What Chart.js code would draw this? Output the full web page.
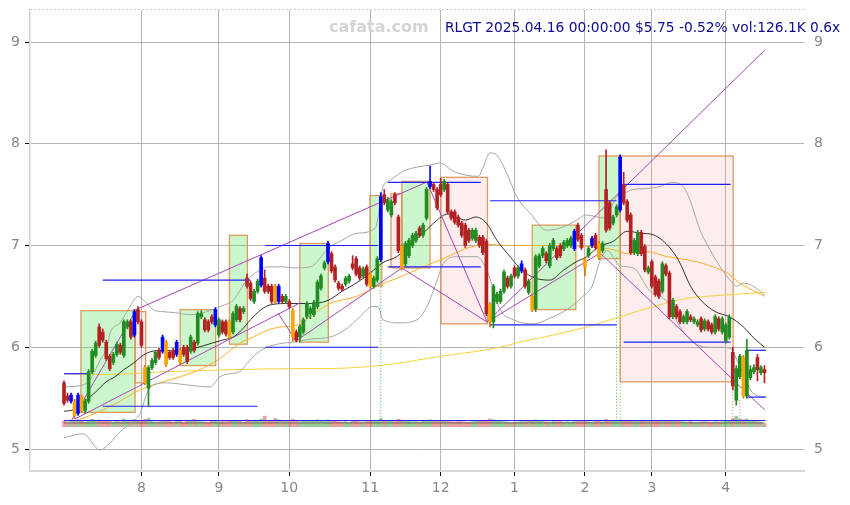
<!DOCTYPE html>
<html><head><meta charset="utf-8">
<script src="https://cdn.jsdelivr.net/npm/chart.js@4.4.1/dist/chart.umd.min.js"></script>
<style>html,body{margin:0;padding:0;background:#fff;}#wrap{width:850px;height:505px;}</style>
</head><body><div id="wrap"><canvas id="c" width="850" height="505"></canvas></div>
<script>
// ---------- DATA (trading-day index 0 = 2024-07-01 ... 199 = 2025-04-16) ----------
const titleText = 'RLGT 2025.04.16 00:00:00 $5.75 -0.52% vol:126.1K 0.6x';
const watermark = 'cafata.com';
const monthTickIdx = [22,44,64,87,107,128,148,167,188];
const monthLabels = ['8','9','10','11','12','1','2','3','4'];
const priceTicks = [5,6,7,8,9];

const opens = [
5.65,5.52,5.47,5.47,5.35,5.52,5.38,5.47,5.76,5.92,
6.20,6.15,6.05,5.91,5.85,5.93,6.02,5.92,6.20,6.25,
6.12,6.37,6.25,5.80,5.60,5.80,5.85,5.97,5.96,6.05,
5.95,5.97,5.93,5.97,6.00,6.00,5.96,6.05,6.04,6.30,
6.27,6.25,6.30,6.22,6.12,6.25,6.25,6.25,6.15,6.27,
6.38,6.35,6.68,6.63,6.45,6.55,6.61,6.68,6.60,6.60,
6.60,6.45,6.50,6.45,6.45,6.36,6.15,6.10,6.15,6.30,
6.33,6.32,6.40,6.58,6.78,6.84,6.92,6.79,6.63,6.60,
6.62,6.65,6.82,6.87,6.78,6.70,6.79,6.72,6.60,6.66,
6.86,7.50,7.35,7.30,7.50,7.28,6.99,6.82,6.90,7.00,
7.05,7.17,7.10,7.27,7.58,7.60,7.55,7.60,7.55,7.60,
7.33,7.33,7.28,7.22,7.20,7.15,7.07,7.05,7.08,7.08,
7.04,6.42,6.25,6.45,6.45,6.55,6.68,6.60,6.78,6.70,
6.75,6.76,6.54,6.50,6.38,6.80,6.90,6.92,6.80,6.97,
6.97,7.00,6.97,7.00,7.00,6.97,7.20,7.10,6.86,6.90,
7.00,7.10,7.02,6.95,7.55,7.42,7.22,7.30,7.35,7.60,
7.43,7.30,6.93,6.92,7.13,6.99,6.74,6.84,6.69,6.65,
6.55,6.80,6.73,6.30,6.40,6.35,6.25,6.25,6.30,6.25,
6.22,6.28,6.18,6.25,6.22,6.15,6.28,6.15,6.06,6.10,
5.95,5.48,5.71,5.90,5.52,5.70,5.76,5.90,5.75,5.78];
const highs = [
5.67,5.55,5.55,5.49,5.55,5.53,5.49,5.78,5.98,6.06,
6.23,6.18,6.07,5.93,5.95,6.05,6.04,6.27,6.27,6.27,
6.37,6.40,6.27,5.82,5.82,5.89,5.97,5.99,6.12,6.07,
5.97,5.99,6.07,5.99,6.02,6.02,6.12,6.07,6.35,6.36,
6.29,6.27,6.32,6.39,6.29,6.27,6.27,6.27,6.35,6.42,
6.40,6.40,6.72,6.65,6.57,6.67,6.90,6.76,6.62,6.62,
6.62,6.62,6.52,6.52,6.47,6.38,6.17,6.22,6.29,6.45,
6.40,6.46,6.66,6.72,6.85,7.04,6.94,6.81,6.65,6.62,
6.70,6.72,6.90,6.89,6.80,6.79,6.81,6.74,6.70,6.89,
7.52,7.55,7.47,7.45,7.52,7.30,7.01,7.04,7.07,7.12,
7.14,7.19,7.22,7.57,7.78,7.62,7.57,7.66,7.65,7.62,
7.35,7.35,7.30,7.24,7.22,7.17,7.17,7.17,7.10,7.10,
7.06,6.44,6.62,6.54,6.57,6.76,6.70,6.72,6.80,6.80,
6.85,6.78,6.67,6.52,6.91,6.92,6.99,6.94,7.02,7.07,
6.99,7.02,7.05,7.07,7.09,7.16,7.22,7.12,6.88,6.99,
7.09,7.12,7.04,7.04,7.94,7.44,7.30,7.40,7.89,7.72,
7.45,7.32,7.07,7.15,7.15,7.01,6.80,6.86,6.71,6.67,
6.84,6.82,6.75,6.48,6.42,6.37,6.32,6.37,6.32,6.30,
6.27,6.30,6.28,6.27,6.24,6.32,6.30,6.30,6.24,6.32,
6.00,5.82,5.93,5.92,6.08,5.82,5.83,5.93,5.82,5.82];
const lows = [
5.43,5.46,5.45,5.30,5.33,5.36,5.35,5.45,5.74,5.90,
6.00,6.05,5.87,5.77,5.83,5.91,5.93,5.90,6.18,6.08,
6.10,6.23,6.00,5.63,5.42,5.78,5.83,5.88,5.94,5.81,
5.88,5.88,5.91,5.83,5.91,5.84,5.94,5.95,6.02,6.28,
6.15,6.15,6.23,6.20,6.10,6.13,6.11,6.08,6.13,6.25,
6.25,6.33,6.58,6.46,6.43,6.53,6.59,6.53,6.53,6.43,
6.43,6.43,6.43,6.43,6.38,6.06,6.05,6.05,6.13,6.28,
6.28,6.30,6.38,6.56,6.76,6.82,6.73,6.64,6.56,6.55,
6.60,6.63,6.76,6.70,6.66,6.68,6.60,6.58,6.58,6.64,
6.84,7.40,7.33,7.28,7.40,6.93,6.76,6.80,6.88,6.98,
7.03,7.08,7.08,7.25,7.56,7.53,7.35,7.48,7.53,7.31,
7.25,7.21,7.18,7.08,6.98,7.03,7.05,7.03,6.98,6.91,
6.31,6.20,6.19,6.43,6.43,6.53,6.58,6.58,6.68,6.68,
6.73,6.58,6.52,6.35,6.35,6.78,6.88,6.83,6.78,6.95,
6.86,6.88,6.95,6.98,6.98,6.95,7.04,6.96,6.70,6.88,
6.98,6.96,6.86,6.93,7.13,7.15,7.20,7.28,7.33,7.40,
7.23,6.91,6.91,6.90,6.90,6.74,6.72,6.58,6.50,6.48,
6.53,6.70,6.28,6.28,6.28,6.23,6.23,6.23,6.25,6.23,
6.20,6.15,6.16,6.16,6.13,6.13,6.16,6.13,6.04,6.08,
5.58,5.43,5.69,5.50,5.50,5.68,5.74,5.67,5.73,5.65];
const closes = [
5.45,5.48,5.53,5.33,5.53,5.38,5.47,5.76,5.96,6.04,
6.02,6.07,5.89,5.79,5.93,6.03,5.95,6.25,6.25,6.10,
6.35,6.25,6.02,5.65,5.80,5.87,5.95,5.90,6.10,5.83,
5.90,5.90,6.05,5.85,5.93,5.86,6.10,5.97,6.33,6.33,
6.17,6.17,6.25,6.37,6.27,6.15,6.13,6.10,6.33,6.40,
6.27,6.38,6.60,6.48,6.55,6.65,6.88,6.55,6.55,6.45,
6.45,6.60,6.45,6.50,6.40,6.10,6.07,6.20,6.27,6.43,
6.38,6.44,6.64,6.70,6.83,7.02,6.75,6.66,6.58,6.57,
6.68,6.70,6.78,6.72,6.68,6.77,6.62,6.60,6.68,6.87,
7.48,7.42,7.45,7.43,7.42,6.95,6.78,7.02,7.05,7.10,
7.12,7.10,7.20,7.55,7.63,7.55,7.37,7.50,7.63,7.33,
7.27,7.23,7.20,7.10,7.00,7.05,7.15,7.15,7.00,6.93,
6.33,6.25,6.60,6.52,6.55,6.74,6.60,6.70,6.70,6.78,
6.82,6.60,6.65,6.37,6.89,6.90,6.97,6.85,7.00,7.05,
6.88,6.90,7.03,7.05,7.07,7.14,7.06,6.98,6.79,6.97,
7.07,6.98,6.88,7.02,7.15,7.17,7.28,7.38,7.87,7.42,
7.25,6.93,7.05,7.13,6.92,6.76,6.78,6.60,6.52,6.50,
6.82,6.72,6.30,6.46,6.30,6.25,6.30,6.35,6.27,6.28,
6.25,6.17,6.26,6.18,6.15,6.30,6.18,6.28,6.22,6.30,
5.62,5.79,5.91,5.52,5.97,5.78,5.80,5.78,5.80,5.75];
const volumesK = [
230,190,260,210,280,240,200,260,300,250,270,220,240,210,190,230,200,310,220,260,280,250,
230,290,330,210,190,200,240,260,210,190,230,220,180,240,260,300,210,200,190,180,230,250,
190,210,200,230,260,240,220,180,280,250,230,260,300,420,250,230,330,280,240,220,
210,300,220,200,230,260,210,240,280,230,250,270,240,220,200,190,210,180,230,220,200,190,210,
250,220,240,330,260,240,220,210,300,260,230,220,200,210,190,220,260,280,250,230,
240,230,220,200,190,210,200,190,180,200,210,230,250,260,310,280,240,220,200,190,170,
180,190,210,200,220,230,270,240,210,200,190,220,200,210,190,200,180,210,220,230,
210,200,190,220,230,200,290,250,230,220,270,240,230,260,220,210,230,240,210,
220,240,230,250,220,260,240,220,210,200,190,210,180,190,200,210,190,180,200,190,200,
210,230,330,420,300,280,310,260,220,200,180,126];
const volAvgK = 150;
const pivotHighIdx = [2,4,20,28,32,43,56,61,75,90,104,130,145,150,158];
const pivotLowIdx  = [3,5,23,29,33,47,60,65,87,96,121,133,148,152,193];

// indicator lines: [index, price]
const sma20 = [[0,5.37],[3,5.39],[6,5.47],[9,5.56],[12,5.66],[14.5,5.71],[17,5.78],[20,5.85],[22,5.91],[25,5.96],[29,5.97],[32,5.96],[37,5.99],[42,6.04],[45,6.07],[48,6.1],[50.5,6.17],[53,6.27],[56,6.37],[59,6.42],[64,6.43],[67,6.43],[70,6.43],[75,6.46],[79,6.55],[83,6.63],[87,6.73],[90.5,6.83],[94.5,6.89],[98,7.0],[102,7.12],[106,7.25],[109,7.31],[112,7.27],[114,7.25],[117,7.28],[120,7.22],[123,7.05],[126,6.92],[129.5,6.78],[133,6.69],[138,6.66],[142,6.76],[145.5,6.84],[148.5,6.89],[152,6.99],[156,7.04],[160,7.14],[164,7.12],[167,7.11],[171,7.02],[174.5,6.86],[178,6.6],[181,6.46],[185,6.35],[189,6.3],[193,6.2],[196,6.09],[199,6.0]];
const bbUpper = [[0,5.61],[5.4,5.63],[7.4,5.68],[10.2,5.87],[12.2,6.0],[13.1,6.14],[15.9,6.24],[18.75,6.4],[21,6.5],[23,6.45],[25.3,6.37],[28.1,6.35],[31.5,6.34],[35.8,6.32],[40.6,6.35],[44.3,6.4],[48,6.46],[52,6.66],[54.8,6.74],[57.7,6.79],[62.2,6.79],[65,6.78],[69.9,6.79],[75.6,6.99],[78.4,7.04],[83.2,7.12],[88.4,7.17],[90.7,7.58],[92.6,7.64],[96.4,7.73],[100.2,7.77],[104,7.79],[106.8,7.81],[110.6,7.73],[114.4,7.69],[117.7,7.68],[119.1,7.77],[121,7.91],[122.9,7.89],[125.8,7.71],[128.6,7.48],[132.4,7.32],[137.1,7.15],[140.9,7.17],[144.7,7.23],[148.5,7.3],[153.2,7.27],[155.1,7.35],[157,7.48],[158.9,7.51],[161.7,7.55],[165.5,7.56],[169.3,7.58],[172.6,7.62],[175.9,7.58],[177.8,7.45],[180.7,7.15],[183.5,6.96],[186.4,6.79],[189.2,6.66],[191.1,6.6],[193,6.63],[195.8,6.6],[199.1,6.51]];
const bbLower = [[0,5.11],[5.4,5.15],[10.2,4.99],[13.1,5.06],[15.9,5.17],[18.75,5.25],[21.6,5.35],[23.6,5.55],[25.3,5.63],[29.3,5.65],[34.9,5.63],[41.5,5.61],[44.3,5.71],[47.2,5.74],[50,5.76],[52,5.84],[54.8,5.94],[57.7,6.0],[62.2,6.04],[65,6.05],[69.9,6.08],[75.6,6.1],[79.8,6.17],[84.1,6.3],[87.5,6.4],[89.2,6.4],[90.6,6.27],[95.5,6.24],[100.3,6.27],[103.1,6.4],[106,6.66],[107.7,6.82],[111.6,6.89],[117.3,6.89],[120.2,6.75],[123.9,6.37],[127.6,6.27],[133.2,6.23],[138.9,6.3],[142.9,6.37],[147.4,6.5],[150,6.6],[152.3,6.85],[154.3,6.95],[158,6.8],[161.7,6.78],[166.5,6.55],[171.3,6.45],[175,6.2],[178.7,6.05],[182.7,6.0],[186.4,6.0],[189.2,5.99],[192,5.81],[195.7,5.55],[199.1,5.51]];
const ma50 = [[4.5,5.29],[10.2,5.37],[15.9,5.47],[21.6,5.58],[27.3,5.65],[33,5.71],[38.6,5.78],[44.3,5.89],[50,6.04],[53.7,6.1],[58,6.17],[61.9,6.2],[67,6.22],[69.9,6.3],[75.6,6.43],[83.2,6.5],[88.9,6.6],[95.5,6.69],[102,6.79],[107.7,6.87],[113.4,6.96],[117.3,7.0],[121,7.01],[125.8,7.0],[132.4,7.0],[138.9,7.0],[148.6,6.99],[156,6.96],[159.9,6.92],[165.6,6.94],[171.3,6.89],[177,6.86],[182.7,6.81],[188.4,6.73],[192,6.63],[195.7,6.56],[199.1,6.5]];
const ma200 = [[0,5.74],[10.2,5.73],[29.2,5.76],[48.1,5.78],[67,5.79],[72.7,5.79],[89.8,5.82],[106.8,5.91],[123.9,6.0],[129.5,6.05],[139,6.12],[148.5,6.2],[158,6.3],[167.4,6.4],[176.9,6.48],[186.4,6.51],[199.1,6.54]];

// range boxes: start idx, end idx, top, bottom, kind
const boxStart  = [4.8,20.2,33,47,67,86.9,92.9,96,107.1,133,152,158];
const boxEnd    = [20.2,23.2,43.1,52.1,75.1,90.3,96,104,120.3,145.4,158,190.1];
const boxTop    = [6.36,6.35,6.37,7.10,7.02,7.49,7.51,7.63,7.67,7.20,7.88,7.88];
const boxBottom = [5.36,5.65,5.82,6.03,6.05,6.60,6.78,6.78,6.23,6.37,6.87,5.66];
const boxKind   = ['up','down','up','up','up','up','down','up','down','up','up','down'];

// horizontal support / resistance levels
const levelStart = [0,11,11,57.1,57.1,92,92,121,121,159,159,194,194,0];
const levelEnd   = [6.8,55,53,89.2,89.2,118.4,118.4,157,157,189.4,189.4,199.4,199.4,199.3];
const levelValue = [5.74,5.42,6.66,7.0,6.0,7.62,6.79,7.44,6.22,7.6,6.05,5.97,5.51,5.28];

// trend lines: [idx1, price1, idx2, price2]
const trendLines = [
  [2.2,5.285,20.2,6.349],
  [3.1,5.295,67.0,6.435],
  [60.8,6.337,65.9,6.061],
  [65.9,6.061,96.0,6.779],
  [20.2,6.366,103.1,7.624],
  [103.1,7.624,120.2,6.248],
  [96.0,6.779,120.2,6.248],
  [120.2,6.248,152.3,6.926],
  [120.2,6.248,199.1,8.921],
  [152.3,6.926,199.1,5.383]
];
// dotted signal verticals
const signalIdx = [90,157,158,190,192];
const signalTop = [6.86,6.88,6.88,5.65,5.48];
const signalBase = 5.28;
const signalKind = ['buy','buy','buy2','sell','sell'];

// ---------- CHART ----------
const FONT = 'DejaVu Sans';
Chart.defaults.font.family = FONT;
const hiSet = new Set(pivotHighIdx), loSet = new Set(pivotLowIdx);
function bodyColor(i){
  if (hiSet.has(i)) return '#0000ff';
  if (loSet.has(i)) return '#ffa500';
  return closes[i] >= opens[i] ? '#228b22' : '#b22222';
}
function wickColor(i){
  if (hiSet.has(i)) return '#0000ff';
  if (loSet.has(i)) return '#e07000';
  return closes[i] >= opens[i] ? '#228b22' : '#b22222';
}
const idx = closes.map((_, i) => i);
const pts = arr => arr.map(p => ({x:p[0], y:p[1]}));
const lineDs = (data, color, order, extra) => Object.assign({type:'line', data, borderColor:color, borderWidth:1, pointRadius:0, fill:false, order, yAxisID:'y'}, extra||{});

const datasets = [
  {type:'bar', data: idx.map(i => ({x:i, y:[opens[i], closes[i]]})), backgroundColor: c => bodyColor(c.dataIndex), barThickness:3, grouped:false, minBarLength:1, order:0, yAxisID:'y'},
  {type:'bar', data: idx.map(i => ({x:i, y:[lows[i], highs[i]]})), backgroundColor: c => wickColor(c.dataIndex), barThickness:1, grouped:false, order:1, yAxisID:'y'},
  {type:'bar', data: idx.map(i => ({x:i, y:volumesK[i]})), backgroundColor: c => closes[c.dataIndex] >= opens[c.dataIndex] ? 'rgba(70,160,70,0.55)' : 'rgba(205,80,80,0.55)', barThickness:3, grouped:false, order:9, yAxisID:'yv'},
  lineDs([{x:0,y:volAvgK},{x:199,y:volAvgK}], 'rgba(90,60,60,0.7)', 8, {yAxisID:'yv'}),
  lineDs(pts(bbUpper), '#a6a6a6', 5, {cubicInterpolationMode:'monotone'}),
  lineDs(pts(bbLower), '#a6a6a6', 5, {cubicInterpolationMode:'monotone'}),
  lineDs(pts(ma200), '#f7d23a', 5, {cubicInterpolationMode:'monotone'}),
  lineDs(pts(ma50), '#ffae2a', 5, {cubicInterpolationMode:'monotone'}),
  lineDs(pts(sma20), 'rgba(20,20,20,0.85)', 4, {cubicInterpolationMode:'monotone'}),
];
levelValue.forEach((v, k) => datasets.push(lineDs([{x:levelStart[k], y:v},{x:levelEnd[k], y:v}], '#1f1fff', 3, {borderWidth:1.2})));
trendLines.forEach(t => datasets.push(lineDs([{x:t[0], y:t[1]},{x:t[2], y:t[3]}], '#a845b8', 3)));
const sigColor = {buy:'#3fae3f', buy2:'#8aa84a', sell:'#e07070'};
signalIdx.forEach((s, k) => datasets.push(lineDs([{x:s, y:signalTop[k]},{x:s, y:signalBase}], sigColor[signalKind[k]], 3, {borderDash:[1,2]})));

const yMin = 4.7838, yMax = 9.3145;
const tickFont = {family: FONT, size: 14};
const noPad = a => { a.paddingTop = 0; a.paddingBottom = 0; a.paddingLeft = 0; a.paddingRight = 0; };
const overlay = {
  id:'overlay',
  beforeDatasetsDraw(chart){
    const {ctx, chartArea:a, scales:{x, y}} = chart;
    ctx.save();
    ctx.beginPath(); ctx.rect(a.left, a.top, a.right - a.left, a.bottom - a.top); ctx.clip();
    boxStart.forEach((s, k) => {
      const x0 = x.getPixelForValue(s), x1 = x.getPixelForValue(boxEnd[k]);
      const y0 = y.getPixelForValue(boxTop[k]), y1 = y.getPixelForValue(boxBottom[k]);
      ctx.fillStyle = boxKind[k] === 'up' ? 'rgba(85,225,85,0.30)' : 'rgba(242,140,140,0.16)';
      ctx.fillRect(x0, y0, x1 - x0, y1 - y0);
      ctx.strokeStyle = 'rgba(218,140,70,0.85)'; ctx.lineWidth = 1.3;
      ctx.strokeRect(x0, y0, x1 - x0, y1 - y0);
    });
    ctx.restore();
  },
  afterDraw(chart){
    const {ctx, chartArea:a} = chart;
    ctx.save();
    ctx.strokeStyle = '#c8c8c8'; ctx.lineWidth = 1; ctx.setLineDash([2,2]);
    ctx.beginPath(); ctx.moveTo(a.left, a.top - 0.5); ctx.lineTo(a.right + 1, a.top - 0.5); ctx.stroke();
    ctx.setLineDash([]);
    ctx.textBaseline = 'alphabetic'; ctx.textAlign = 'left';
    ctx.font = 'bold 16px "' + FONT + '"'; ctx.fillStyle = '#d4d4d4';
    ctx.fillText(watermark, 329, 31.5);
    ctx.font = '13.8px "' + FONT + '"'; ctx.fillStyle = '#0c0c8c';
    ctx.fillText(titleText, 445, 31.5);
    ctx.restore();
  }
};

new Chart(document.getElementById('c'), {
  type:'bar',
  data:{datasets},
  plugins:[overlay],
  options:{
    responsive:false, animation:false, devicePixelRatio:1,
    layout:{padding:{top:10, left:0, right:0, bottom:0}},
    plugins:{legend:{display:false}, tooltip:{enabled:false}},
    scales:{
      x:{type:'linear', position:'bottom', min:-9.659, max:210.227, offset:false,
        grid:{color:'#b4b4b4', tickColor:'#000', tickLength:5, offset:false},
        border:{color:'#d8d8d8', width:2},
        ticks:{font:tickFont, color:'#888', padding:4, maxRotation:0, autoSkip:false,
          callback:v => { const k = monthTickIdx.indexOf(v); return k >= 0 ? monthLabels[k] : ''; }},
        afterBuildTicks:a => { a.ticks = monthTickIdx.map(v => ({value:v})); },
        afterFit:a => { a.height = 34; noPad(a); }},
      y:{position:'left', min:yMin, max:yMax,
        grid:{color:'#b4b4b4', tickColor:'#000', tickLength:5},
        border:{color:'#d4d4d4', width:1.5},
        ticks:{font:tickFont, color:'#888', padding:5, callback:v => String(v)},
        afterBuildTicks:a => { a.ticks = priceTicks.map(v => ({value:v})); },
        afterFit:a => { a.width = 30; noPad(a); }},
      y2:{position:'right', min:yMin, max:yMax,
        grid:{display:false, drawTicks:false}, border:{display:false},
        ticks:{font:tickFont, color:'#888', padding:10, callback:v => String(v)},
        afterBuildTicks:a => { a.ticks = priceTicks.map(v => ({value:v})); },
        afterFit:a => { a.width = 46; noPad(a); }},
      yv:{display:false, min:-1772, max:16668, afterFit:a => noPad(a)}
    }
  }
});
</script>
</body></html>
